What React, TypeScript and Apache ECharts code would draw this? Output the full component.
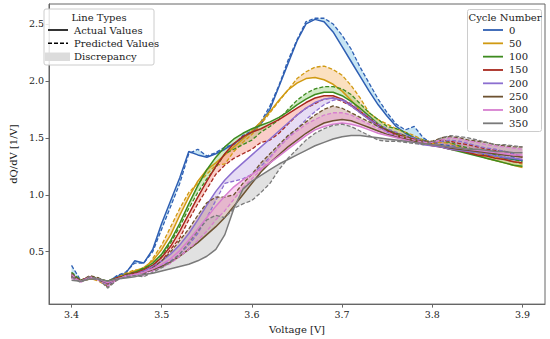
import React, { useEffect, useRef } from "react";
import * as echarts from "echarts";

const voltage = [
  3.40, 3.41, 3.42, 3.43, 3.44, 3.45, 3.46, 3.47, 3.48, 3.49,
  3.50, 3.51, 3.52, 3.53, 3.54, 3.55, 3.56, 3.57, 3.58, 3.59,
  3.60, 3.61, 3.62, 3.63, 3.64, 3.65, 3.66, 3.67, 3.68, 3.69,
  3.70, 3.71, 3.72, 3.73, 3.74, 3.75, 3.76, 3.77, 3.78, 3.79,
  3.80, 3.81, 3.82, 3.83, 3.84, 3.85, 3.86, 3.87, 3.88, 3.89, 3.90,
];

const cycles = ["0", "50", "100", "150", "200", "250", "300", "350"];

const act0 = [0.30,0.24,0.26,0.26,0.24,0.28,0.31,0.42,0.40,0.52, 0.75,0.95,1.15,1.38,1.35,1.33,1.36,1.40,1.45,1.50, 1.55,1.62,1.75,1.95,2.15,2.35,2.50,2.54,2.52,2.43, 2.30,2.17,2.04,1.91,1.79,1.69,1.60,1.54,1.50,1.47, 1.45,1.43,1.41,1.40,1.38,1.37,1.35,1.34,1.32,1.31, 1.30];
const pred0 = [0.38,0.25,0.27,0.25,0.22,0.29,0.32,0.40,0.40,0.50, 0.70,0.90,1.10,1.36,1.40,1.34,1.37,1.42,1.44,1.52, 1.56,1.64,1.78,1.96,2.18,2.36,2.52,2.55,2.55,2.50, 2.40,2.28,2.12,1.98,1.84,1.72,1.62,1.57,1.60,1.50, 1.45,1.44,1.43,1.42,1.40,1.39,1.37,1.36,1.35,1.33, 1.30];
const act50 = [0.27,0.24,0.26,0.26,0.24,0.27,0.30,0.33,0.36,0.42, 0.52,0.65,0.82,0.98,1.12,1.22,1.28,1.35,1.42,1.49, 1.56,1.64,1.73,1.83,1.92,1.98,2.02,2.03,2.01,1.97, 1.91,1.83,1.74,1.66,1.60,1.56,1.53,1.51,1.49,1.47, 1.45,1.43,1.41,1.39,1.37,1.35,1.32,1.30,1.28,1.26, 1.24];
const pred50 = [0.30,0.25,0.27,0.24,0.20,0.27,0.31,0.34,0.33,0.44, 0.56,0.72,0.88,1.02,1.10,1.18,1.26,1.27,1.38,1.46, 1.53,1.62,1.72,1.82,1.92,2.02,2.08,2.12,2.13,2.10, 2.05,1.96,1.85,1.72,1.66,1.62,1.58,1.55,1.52,1.48, 1.46,1.46,1.45,1.42,1.40,1.37,1.35,1.33,1.31,1.29, 1.27];
const act100 = [0.30,0.24,0.27,0.26,0.24,0.27,0.29,0.32,0.35,0.40, 0.48,0.60,0.75,0.92,1.08,1.22,1.33,1.42,1.49,1.54, 1.58,1.61,1.64,1.68,1.73,1.79,1.84,1.88,1.90,1.90, 1.87,1.82,1.76,1.69,1.62,1.57,1.53,1.50,1.48,1.46, 1.44,1.42,1.40,1.38,1.36,1.34,1.32,1.30,1.28,1.26, 1.25];
const pred100 = [0.32,0.25,0.28,0.27,0.21,0.26,0.30,0.31,0.36,0.38, 0.46,0.58,0.72,0.88,1.02,1.14,1.24,1.36,1.40,1.44, 1.48,1.55,1.60,1.66,1.75,1.83,1.89,1.93,1.95,1.95, 1.93,1.88,1.80,1.72,1.66,1.60,1.58,1.55,1.50,1.48, 1.46,1.47,1.46,1.43,1.41,1.39,1.37,1.35,1.33,1.31, 1.29];
const act150 = [0.28,0.24,0.27,0.26,0.23,0.27,0.29,0.31,0.34,0.38, 0.45,0.55,0.68,0.83,0.98,1.12,1.25,1.36,1.45,1.51, 1.55,1.58,1.62,1.66,1.71,1.76,1.81,1.85,1.87,1.87, 1.84,1.79,1.73,1.67,1.61,1.56,1.52,1.49,1.47,1.45, 1.43,1.42,1.40,1.39,1.37,1.35,1.34,1.32,1.31,1.29, 1.28];
const pred150 = [0.29,0.25,0.28,0.25,0.22,0.26,0.29,0.30,0.33,0.36, 0.42,0.52,0.62,0.78,0.92,1.05,1.18,1.26,1.32,1.36, 1.40,1.46,1.48,1.54,1.62,1.70,1.76,1.80,1.84,1.85, 1.82,1.78,1.72,1.66,1.60,1.56,1.54,1.50,1.49,1.47, 1.45,1.48,1.47,1.45,1.44,1.42,1.40,1.39,1.38,1.36, 1.33];
const act200 = [0.27,0.24,0.27,0.26,0.23,0.26,0.28,0.30,0.33,0.37, 0.42,0.48,0.56,0.66,0.78,0.91,1.03,1.13,1.21,1.28, 1.35,1.42,1.49,1.56,1.63,1.70,1.76,1.81,1.84,1.85, 1.83,1.78,1.72,1.66,1.60,1.55,1.51,1.48,1.46,1.44, 1.43,1.42,1.40,1.39,1.38,1.37,1.36,1.34,1.33,1.32, 1.31];
const pred200 = [0.29,0.24,0.28,0.25,0.21,0.25,0.29,0.30,0.31,0.34, 0.38,0.42,0.48,0.56,0.66,0.80,0.95,1.10,1.12,1.14, 1.18,1.25,1.33,1.42,1.50,1.58,1.66,1.73,1.79,1.83, 1.84,1.80,1.74,1.68,1.62,1.58,1.55,1.52,1.50,1.47, 1.46,1.47,1.48,1.47,1.45,1.43,1.41,1.40,1.38,1.36, 1.34];
const act250 = [0.28,0.24,0.27,0.26,0.23,0.26,0.28,0.30,0.32,0.34, 0.37,0.41,0.46,0.52,0.58,0.65,0.72,0.80,0.90,1.00, 1.10,1.20,1.28,1.35,1.42,1.48,1.54,1.59,1.63,1.65, 1.66,1.65,1.62,1.59,1.56,1.53,1.51,1.49,1.47,1.45, 1.44,1.43,1.41,1.40,1.39,1.38,1.37,1.36,1.35,1.34, 1.33];
const pred250 = [0.31,0.24,0.29,0.27,0.19,0.25,0.30,0.32,0.30,0.36, 0.42,0.50,0.60,0.70,0.82,0.93,0.98,0.98,1.00,1.10, 1.18,1.28,1.36,1.44,1.52,1.58,1.64,1.70,1.75,1.78, 1.76,1.72,1.68,1.64,1.60,1.57,1.54,1.52,1.48,1.47, 1.47,1.50,1.51,1.50,1.48,1.47,1.46,1.44,1.43,1.42, 1.42];
const act300 = [0.27,0.24,0.27,0.26,0.23,0.26,0.28,0.30,0.32,0.35, 0.39,0.44,0.51,0.60,0.70,0.80,0.90,0.99,1.07,1.13, 1.18,1.23,1.28,1.34,1.40,1.46,1.52,1.57,1.60,1.62, 1.63,1.62,1.60,1.57,1.54,1.52,1.50,1.48,1.46,1.45, 1.44,1.43,1.42,1.41,1.40,1.39,1.38,1.37,1.36,1.35, 1.35];
const pred300 = [0.30,0.23,0.28,0.25,0.20,0.25,0.29,0.30,0.29,0.33, 0.36,0.40,0.46,0.52,0.60,0.68,0.78,0.86,0.96,1.06, 1.14,1.22,1.32,1.42,1.50,1.56,1.62,1.66,1.70,1.72, 1.72,1.70,1.66,1.62,1.58,1.55,1.52,1.50,1.48,1.46, 1.46,1.48,1.50,1.49,1.47,1.46,1.44,1.43,1.42,1.41, 1.40];
const act350 = [0.25,0.24,0.26,0.26,0.24,0.26,0.27,0.28,0.30,0.31, 0.33,0.35,0.37,0.39,0.42,0.46,0.52,0.65,0.88,1.05, 1.12,1.17,1.22,1.27,1.31,1.35,1.39,1.43,1.46,1.49, 1.51,1.52,1.52,1.51,1.50,1.49,1.48,1.47,1.46,1.45, 1.44,1.43,1.42,1.41,1.40,1.40,1.39,1.38,1.38,1.37, 1.37];
const pred350 = [0.28,0.23,0.28,0.26,0.18,0.25,0.28,0.29,0.28,0.32, 0.36,0.41,0.48,0.58,0.68,0.78,0.82,0.80,0.88,0.92, 0.95,1.02,1.10,1.22,1.32,1.40,1.48,1.54,1.58,1.61, 1.62,1.60,1.56,1.52,1.48,1.47,1.47,1.46,1.45,1.44, 1.46,1.50,1.52,1.51,1.50,1.48,1.46,1.44,1.44,1.43, 1.42];

const actual = [act0, act50, act100, act150, act200, act250, act300, act350];
const predicted = [pred0, pred50, pred100, pred150, pred200, pred250, pred300, pred350];

const xTicks = [3.4, 3.5, 3.6, 3.7, 3.8, 3.9];
const yTicks = [0.5, 1.0, 1.5, 2.0, 2.5];

const lineColors = ["#2f5fb3", "#d09a12", "#3d8b1f", "#a8281e", "#8c6fd0", "#6d5230", "#d77fd0", "#7a7a7a"];
const fillColors = ["#5fb4e0", "#f4a64a", "#7cc45a", "#f07060", "#b89be0", "#a87060", "#f090d8", "#a8a8a8"];

const FONT = "DejaVu Serif";

export default function App() {
  const ref = useRef<HTMLDivElement>(null);
  useEffect(() => {
    if (!ref.current) return;
    const chart = echarts.init(ref.current, null, { renderer: "svg" });
    const series: any[] = [];
    cycles.forEach((c, k) => {
      const a = actual[k];
      const p = predicted[k];
      series.push({
        type: "custom",
        name: "fill" + c,
        silent: true,
        clip: true,
        z: 1,
        data: [[voltage[0], a[0]]],
        encode: { x: 0, y: 1 },
        renderItem: (_params: any, api: any) => {
          const pts: number[][] = [];
          for (let i = 0; i < voltage.length; i++) pts.push(api.coord([voltage[i], a[i]]));
          for (let i = voltage.length - 1; i >= 0; i--) pts.push(api.coord([voltage[i], p[i]]));
          return {
            type: "polygon",
            shape: { points: pts },
            style: { fill: fillColors[k], opacity: 0.35 },
          };
        },
      });
      series.push({
        type: "line",
        name: c,
        z: 3,
        data: voltage.map((v, i) => [v, a[i]]),
        showSymbol: false,
        symbol: "none",
        lineStyle: { color: lineColors[k], width: 1.5 },
      });
      series.push({
        type: "line",
        name: c + " pred",
        z: 3,
        data: voltage.map((v, i) => [v, p[i]]),
        showSymbol: false,
        symbol: "none",
        lineStyle: { color: lineColors[k], width: 1.3, type: [4, 2] },
      });
    });

    const graphics: any[] = [];
    graphics.push({ type: "rect", shape: { x: 44, y: 9, width: 110, height: 56, r: 2 }, style: { fill: "rgba(255,255,255,0.85)", stroke: "#cccccc", lineWidth: 1 }, z: 10 });
    graphics.push({ type: "text", x: 99, y: 17, style: { text: "Line Types", font: `10px '${FONT}'`, fill: "#222", align: "center", verticalAlign: "middle" }, z: 11 });
    graphics.push({ type: "line", shape: { x1: 48, y1: 30, x2: 68, y2: 30 }, style: { stroke: "#000", lineWidth: 1.6 }, z: 11 });
    graphics.push({ type: "text", x: 74, y: 30, style: { text: "Actual Values", font: `10px '${FONT}'`, fill: "#222", verticalAlign: "middle" }, z: 11 });
    graphics.push({ type: "line", shape: { x1: 48, y1: 43.3, x2: 68, y2: 43.3 }, style: { stroke: "#000", lineWidth: 1.4, lineDash: [4, 2] }, z: 11 });
    graphics.push({ type: "text", x: 74, y: 43.3, style: { text: "Predicted Values", font: `10px '${FONT}'`, fill: "#222", verticalAlign: "middle" }, z: 11 });
    graphics.push({ type: "rect", shape: { x: 45, y: 52.5, width: 25, height: 8.5 }, style: { fill: "#dcdcdc" }, z: 11 });
    graphics.push({ type: "text", x: 74, y: 56.7, style: { text: "Discrepancy", font: `10px '${FONT}'`, fill: "#222", verticalAlign: "middle" }, z: 11 });

    graphics.push({ type: "rect", shape: { x: 467.5, y: 9.5, width: 74, height: 122, r: 2 }, style: { fill: "rgba(255,255,255,0.85)", stroke: "#cccccc", lineWidth: 1 }, z: 10 });
    graphics.push({ type: "text", x: 505, y: 17, style: { text: "Cycle Number", font: `10px '${FONT}'`, fill: "#222", align: "center", verticalAlign: "middle" }, z: 11 });
    cycles.forEach((c, k) => {
      const y = 30 + k * 13.33;
      graphics.push({ type: "line", shape: { x1: 483, y1: y, x2: 503, y2: y }, style: { stroke: lineColors[k], lineWidth: 1.8 }, z: 11 });
      graphics.push({ type: "text", x: 509, y, style: { text: c, font: `10px '${FONT}'`, fill: "#222", verticalAlign: "middle" }, z: 11 });
    });

    chart.setOption({
      animation: false,
      backgroundColor: "#ffffff",
      grid: { left: 40, right: 5, top: 4, bottom: 33, containLabel: false, show: true, borderColor: "#666", borderWidth: 1, backgroundColor: "transparent" },
      xAxis: {
        type: "value",
        min: 3.375,
        max: 3.925,
        name: "Voltage [V]",
        nameLocation: "middle",
        nameGap: 18,
        nameTextStyle: { fontFamily: FONT, fontSize: 10, color: "#222" },
        axisLine: { show: true, onZero: false, lineStyle: { color: "#666" } },
        axisTick: { show: true, length: 3.5, lineStyle: { color: "#666" }, customValues: xTicks },
        axisLabel: { fontFamily: FONT, fontSize: 9.5, color: "#222", margin: 5, customValues: xTicks, formatter: (v: number) => v.toFixed(1) },
        splitLine: { show: false },
      },
      yAxis: {
        type: "value",
        min: 0.04,
        max: 2.675,
        name: "dQ/dV [1/V]",
        nameLocation: "middle",
        nameGap: 29,
        nameTextStyle: { fontFamily: FONT, fontSize: 10, color: "#222" },
        axisLine: { show: true, onZero: false, lineStyle: { color: "#666" } },
        axisTick: { show: true, length: 3.5, lineStyle: { color: "#666" }, customValues: yTicks },
        axisLabel: { fontFamily: FONT, fontSize: 9.5, color: "#222", margin: 5, customValues: yTicks, formatter: (v: number) => v.toFixed(1) },
        splitLine: { show: false },
      },
      series,
      graphic: graphics,
    });
    return () => chart.dispose();
  }, []);
  return <div ref={ref} style={{ position: "absolute", left: 0, top: 0, width: 550, height: 339 }} />;
}
